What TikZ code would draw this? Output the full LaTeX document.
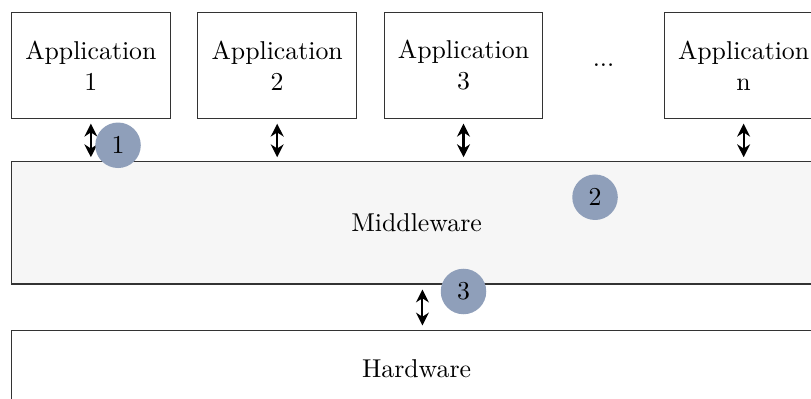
\documentclass[tikz,border=0pt]{standalone}
\usepackage{tikz}
\usetikzlibrary{arrows.meta, positioning, calc}

\definecolor{badgeblue}{RGB}{143,159,186}
\definecolor{layergray}{RGB}{246,246,246}

\begin{document}
\begin{tikzpicture}[
        node distance=0.586cm and 0.362cm,
        app/.style={rectangle, draw=black!80, fill=white, align=center, minimum width=2.162cm, minimum height=1.44cm, inner sep=0},
        layer/.style={rectangle, draw=black!80, minimum width=11.035cm, inner sep=0},
        badge/.style={circle, fill=badgeblue, minimum size=0.62cm, inner sep=0},
        arrow/.style={{Stealth[length=5pt,width=5pt]}-{Stealth[length=5pt,width=5pt]}, thick, shorten <=0.068cm, shorten >=0.055cm}
    ]

    \useasboundingbox (0,0) rectangle (11.048,-5.422);

    % Applications
    \node[app, anchor=north west] (app1) at (0.15,-0.163) {Application\\1};
    \node[app] (app2) [right=of app1] {Application\\2};
    \node[app] (app3) [right=of app2] {Application\\3};
    \node[app] (appn) [right=1.64cm of app3] {Application\\n};
    \node (dots) at ($(app3.east)!0.5!(appn.west)$) {...};

    % Layers
    \node[layer, fill=layergray, minimum height=1.665cm, anchor=north west] (mw) at ($(app1.south west)+(0,-0.58)$) {Middleware};
    \node[layer, minimum height=1.05cm, anchor=north west] (hw) at ($(mw.south west)+(0,-0.613)$) {Hardware};

    % Connections
    \foreach \a in {app1, app2, app3, appn}
        \draw[arrow] (\a.south) -- (\a.south |- mw.north);
    \coordinate (link) at ($(mw.south)+(0.08,0)$);
    \draw[arrow] (link) -- (link |- hw.north);

    % Badges
    \node[badge] (b1) at ($(mw.north west)+(1.458,0.218)$) {1};
    \node[badge] (b2) at ($(mw.north west)+(7.956,-0.49)$) {2};
    \node[badge] (b3) at ($(app3.south |- mw.south)+(0,-0.095)$) {3};

\end{tikzpicture}
\end{document}
